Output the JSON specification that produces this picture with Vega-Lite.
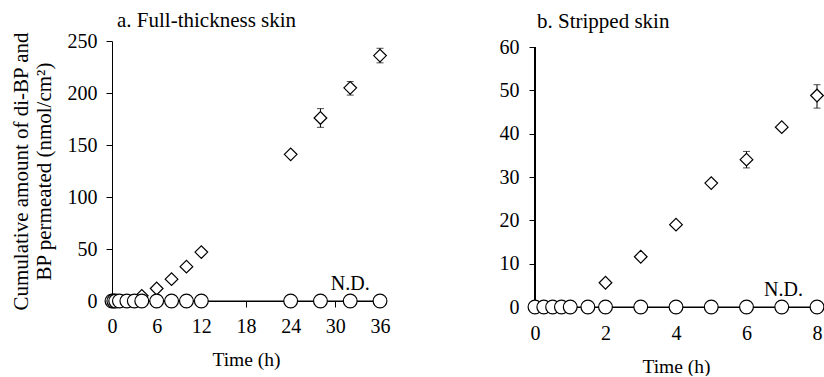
{
  "$schema": "https://vega.github.io/schema/vega-lite/v6.json",
  "background": "white",
  "padding": {"left": 9, "top": 10, "right": 0, "bottom": 0},
  "spacing": 109,
  "config": {
    "font": "Liberation Serif",
    "view": {"stroke": null},
    "axis": {
      "grid": false,
      "domainColor": "black",
      "tickColor": "black",
      "labelColor": "black",
      "titleColor": "black",
      "labelFont": "Liberation Serif",
      "titleFont": "Liberation Serif",
      "labelFontSize": 20,
      "titleFontSize": 19.5,
      "titleFontWeight": "normal",
      "domainWidth": 1,
      "tickWidth": 1,
      "tickSize": 6,
      "labelFlush": false
    },
    "title": {"font": "Liberation Serif", "fontSize": 21, "fontWeight": "normal", "anchor": "start", "frame": "group", "color": "black", "offset": 8}
  },
  "datasets": {
    "full": [
      {"time": 0, "value": 0, "series": "di-BP"},
      {"time": 0.25, "value": 0, "series": "di-BP"},
      {"time": 0.5, "value": 0, "series": "di-BP"},
      {"time": 1, "value": 0, "series": "di-BP"},
      {"time": 2, "value": 0, "series": "di-BP"},
      {"time": 3, "value": 0, "series": "di-BP"},
      {"time": 4, "value": 0, "series": "di-BP"},
      {"time": 6, "value": 0, "series": "di-BP"},
      {"time": 8, "value": 0, "series": "di-BP"},
      {"time": 10, "value": 0, "series": "di-BP"},
      {"time": 12, "value": 0, "series": "di-BP"},
      {"time": 24, "value": 0, "series": "di-BP"},
      {"time": 28, "value": 0, "series": "di-BP"},
      {"time": 32, "value": 0, "series": "di-BP"},
      {"time": 36, "value": 0, "series": "di-BP"},
      {"time": 4, "value": 5, "series": "BP"},
      {"time": 6, "value": 12, "series": "BP"},
      {"time": 8, "value": 21, "series": "BP"},
      {"time": 10, "value": 33, "series": "BP"},
      {"time": 12, "value": 47, "series": "BP"},
      {"time": 24, "value": 141, "series": "BP"},
      {"time": 28, "value": 176, "lo": 167, "hi": 185, "series": "BP"},
      {"time": 32, "value": 205, "lo": 198, "hi": 211, "series": "BP"},
      {"time": 36, "value": 236, "lo": 229, "hi": 243, "series": "BP"}
    ],
    "stripped": [
      {"time": 0, "value": 0, "series": "di-BP"},
      {"time": 0.25, "value": 0, "series": "di-BP"},
      {"time": 0.5, "value": 0, "series": "di-BP"},
      {"time": 0.75, "value": 0, "series": "di-BP"},
      {"time": 1, "value": 0, "series": "di-BP"},
      {"time": 1.5, "value": 0, "series": "di-BP"},
      {"time": 2, "value": 0, "series": "di-BP"},
      {"time": 3, "value": 0, "series": "di-BP"},
      {"time": 4, "value": 0, "series": "di-BP"},
      {"time": 5, "value": 0, "series": "di-BP"},
      {"time": 6, "value": 0, "series": "di-BP"},
      {"time": 7, "value": 0, "series": "di-BP"},
      {"time": 8, "value": 0, "series": "di-BP"},
      {"time": 2, "value": 5.6, "series": "BP"},
      {"time": 3, "value": 11.6, "series": "BP"},
      {"time": 4, "value": 19, "series": "BP"},
      {"time": 5, "value": 28.6, "series": "BP"},
      {"time": 6, "value": 34, "lo": 32.1, "hi": 35.9, "series": "BP"},
      {"time": 7, "value": 41.5, "series": "BP"},
      {"time": 8, "value": 48.8, "lo": 45.9, "hi": 51.3, "series": "BP"}
    ],
    "labelsFull": [{"time": 32, "value": 11, "label": "N.D."}],
    "labelsStripped": [{"time": 7.05, "value": 2.5, "label": "N.D."}]
  },
  "hconcat": [
    {
      "width": 268,
      "height": 260,
      "title": {"text": "a. Full-thickness skin", "dx": 5, "offset": 0},
      "data": {"name": "full"},
      "encoding": {
        "x": {"field": "time", "type": "quantitative", "scale": {"domain": [0, 36], "nice": false},
              "axis": {"values": [0, 6, 12, 18, 24, 30, 36], "title": "Time (h)", "labelPadding": 9, "titlePadding": 14, "labelFlush": false}}
      },
      "layer": [
        {
          "transform": [{"filter": "datum.series == 'di-BP'"}],
          "mark": {"type": "line", "color": "black", "strokeWidth": 1},
          "encoding": {"y": {"field": "value", "type": "quantitative", "scale": {"domain": [0, 250], "nice": false},
            "axis": {"orient": "left", "values": [0, 50, 100, 150, 200, 250], "title": ["Cumulative amount of di-BP and", "BP permeated (nmol/cm²)"], "titleFontSize": 21, "titleLineHeight": 23, "labelPadding": 9, "titlePadding": 13}}}
        },
        {
          "transform": [{"filter": "isValid(datum.lo)"}],
          "mark": {"type": "errorbar", "color": "black", "ticks": {"size": 7, "color": "black"}},
          "encoding": {
            "y": {"field": "lo", "type": "quantitative", "axis": null},
            "y2": {"field": "hi"}
          }
        },
        {
          "transform": [{"filter": "datum.series == 'BP'"}],
          "mark": {"type": "point", "shape": "diamond", "filled": true, "fill": "white", "stroke": "black", "strokeWidth": 1.2, "size": 160, "opacity": 1},
          "encoding": {"y": {"field": "value", "type": "quantitative", "axis": null}}
        },
        {
          "transform": [{"filter": "datum.series == 'di-BP'"}],
          "mark": {"type": "point", "shape": "circle", "filled": true, "fill": "white", "stroke": "black", "strokeWidth": 1.2, "size": 190, "opacity": 1},
          "encoding": {"y": {"field": "value", "type": "quantitative", "axis": null}}
        },
        {
          "data": {"name": "labelsFull"},
          "mark": {"type": "text", "font": "Liberation Serif", "fontSize": 20, "color": "black", "baseline": "alphabetic", "align": "center"},
          "encoding": {"y": {"field": "value", "type": "quantitative", "axis": null}, "text": {"field": "label"}}
        }
      ],
      "resolve": {"axis": {"y": "independent"}}
    },
    {
      "width": 282,
      "height": 266,
      "title": {"text": "b. Stripped skin", "dx": 2, "offset": 5},
      "data": {"name": "stripped"},
      "encoding": {
        "x": {"field": "time", "type": "quantitative", "scale": {"domain": [0, 8], "nice": false},
              "axis": {"values": [0, 2, 4, 6, 8], "title": "Time (h)", "labelPadding": 10, "titlePadding": 14, "labelFlush": false}}
      },
      "layer": [
        {
          "transform": [{"filter": "datum.series == 'di-BP'"}],
          "mark": {"type": "line", "color": "black", "strokeWidth": 1},
          "encoding": {"y": {"field": "value", "type": "quantitative", "scale": {"domain": [0, 61.385], "nice": false},
            "axis": {"orient": "left", "values": [0, 10, 20, 30, 40, 50, 60], "title": null, "labelPadding": 10, "domain": false}}}
        },
        {
          "mark": {"type": "rule", "color": "black", "strokeWidth": 1},
          "encoding": {"x": {"datum": 0}, "y": {"datum": 0, "axis": null}, "y2": {"datum": 60}}
        },
        {
          "transform": [{"filter": "isValid(datum.lo)"}],
          "mark": {"type": "errorbar", "color": "black", "ticks": {"size": 7, "color": "black"}},
          "encoding": {
            "y": {"field": "lo", "type": "quantitative", "axis": null},
            "y2": {"field": "hi"}
          }
        },
        {
          "transform": [{"filter": "datum.series == 'BP'"}],
          "mark": {"type": "point", "shape": "diamond", "filled": true, "fill": "white", "stroke": "black", "strokeWidth": 1.2, "size": 160, "opacity": 1},
          "encoding": {"y": {"field": "value", "type": "quantitative", "axis": null}}
        },
        {
          "transform": [{"filter": "datum.series == 'di-BP'"}],
          "mark": {"type": "point", "shape": "circle", "filled": true, "fill": "white", "stroke": "black", "strokeWidth": 1.2, "size": 190, "opacity": 1},
          "encoding": {"y": {"field": "value", "type": "quantitative", "axis": null}}
        },
        {
          "data": {"name": "labelsStripped"},
          "mark": {"type": "text", "font": "Liberation Serif", "fontSize": 20, "color": "black", "baseline": "alphabetic", "align": "center"},
          "encoding": {"y": {"field": "value", "type": "quantitative", "axis": null}, "text": {"field": "label"}}
        }
      ],
      "resolve": {"axis": {"y": "independent"}}
    }
  ]
}
